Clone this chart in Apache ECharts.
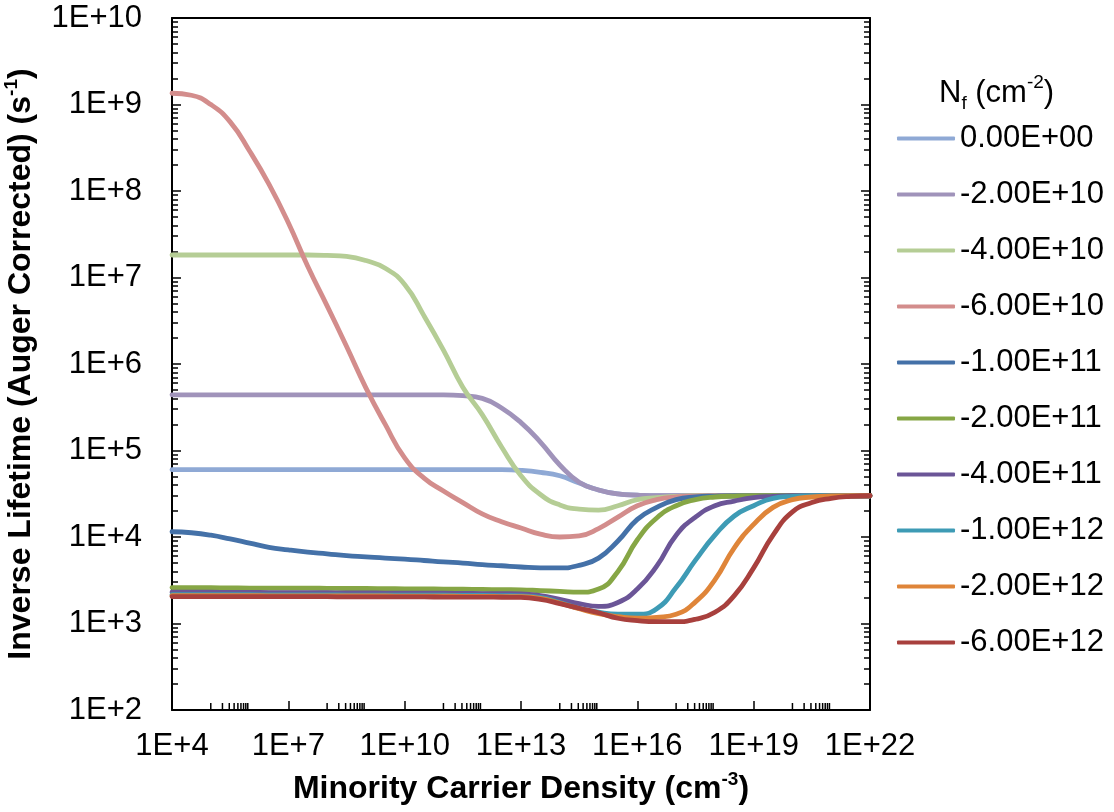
<!DOCTYPE html>
<html>
<head>
<meta charset="utf-8">
<title>Inverse Lifetime vs Minority Carrier Density</title>
<script src="https://cdn.jsdelivr.net/npm/echarts@6/dist/echarts.min.js"></script>
<style>
  html, body { margin: 0; padding: 0; background: #fff; }
  #chart { width: 1114px; height: 812px; }
</style>
</head>
<body>
<div id="chart"></div>
<script>
// Minority carrier density grid (cm^-3), half-decade steps from 1E+4 to 1E+22
const DENSITY = [
  1e4, 3.16e4, 1e5, 3.16e5, 1e6, 3.16e6, 1e7, 3.16e7, 1e8, 3.16e8,
  1e9, 3.16e9, 1e10, 3.16e10, 1e11, 3.16e11, 1e12, 3.16e12, 1e13, 3.16e13,
  1e14, 3.16e14, 1e15, 3.16e15, 1e16, 3.16e16, 1e17, 3.16e17, 1e18, 3.16e18,
  1e19, 3.16e19, 1e20, 3.16e20, 1e21, 3.16e21, 1e22
];

// Fixed charge density labels (cm^-2)
const NF_LABELS = [
  '0.00E+00', '-2.00E+10', '-4.00E+10', '-6.00E+10', '-1.00E+11',
  '-2.00E+11', '-4.00E+11', '-1.00E+12', '-2.00E+12', '-6.00E+12'
];

const NF_COLORS = [
  '#8FA9D5', '#A093BA', '#B5CD95', '#D38D8C', '#4471A8',
  '#86A645', '#6B5597', '#3E9BB5', '#DF8539', '#A8403D'
];

// Inverse lifetime (Auger corrected), s^-1, one array per fixed charge
const INV_NF_0 = [
  6.0e4, 6.0e4, 6.0e4, 6.0e4, 6.0e4, 6.0e4, 6.0e4, 6.0e4, 6.0e4, 6.0e4,
  6.0e4, 6.0e4, 6.0e4, 6.0e4, 6.0e4, 6.0e4, 6.0e4, 6.0e4, 5.9e4, 5.6e4,
  5.1e4, 4.2e4, 3.5e4, 3.15e4, 3.05e4, 3.0e4, 3.0e4, 3.0e4, 3.0e4, 3.0e4,
  3.0e4, 3.0e4, 3.0e4, 3.0e4, 3.0e4, 3.0e4, 3.0e4
];
const INV_NF_2E10 = [
  4.4e5, 4.4e5, 4.4e5, 4.4e5, 4.4e5, 4.4e5, 4.4e5, 4.4e5, 4.4e5, 4.4e5,
  4.4e5, 4.4e5, 4.4e5, 4.4e5, 4.4e5, 4.3e5, 4.0e5, 3.1e5, 2.1e5, 1.25e5,
  6.8e4, 4.3e4, 3.5e4, 3.15e4, 3.05e4, 3.0e4, 3.0e4, 3.0e4, 3.0e4, 3.0e4,
  3.0e4, 3.0e4, 3.0e4, 3.0e4, 3.0e4, 3.0e4, 3.0e4
];
const INV_NF_4E10 = [
  1.82e7, 1.82e7, 1.82e7, 1.82e7, 1.82e7, 1.82e7, 1.82e7, 1.82e7, 1.8e7, 1.75e7,
  1.57e7, 1.28e7, 8.3e6, 3.6e6, 1.45e6, 5.4e5, 2.6e5, 1.1e5, 5.1e4, 3.1e4,
  2.35e4, 2.1e4, 2.05e4, 2.3e4, 2.7e4, 2.85e4, 2.95e4, 3.0e4, 3.0e4, 3.0e4,
  3.0e4, 3.0e4, 3.0e4, 3.0e4, 3.0e4, 3.0e4, 3.0e4
];
const INV_NF_6E10 = [
  1.35e9, 1.28e9, 1.0e9, 6.3e8, 2.9e8, 1.2e8, 4.3e7, 1.35e7, 4.7e6, 1.6e6,
  5.3e5, 2.0e5, 8.2e4, 4.8e4, 3.4e4, 2.5e4, 1.85e4, 1.5e4, 1.27e4, 1.08e4,
  1.0e4, 1.03e4, 1.25e4, 1.7e4, 2.3e4, 2.7e4, 2.9e4, 2.97e4, 3.0e4, 3.0e4,
  3.0e4, 3.0e4, 3.0e4, 3.0e4, 3.0e4, 3.0e4, 3.0e4
];
const INV_NF_1E11 = [
  1.15e4, 1.12e4, 1.05e4, 9.5e3, 8.5e3, 7.6e3, 7.1e3, 6.7e3, 6.4e3, 6.1e3,
  5.9e3, 5.7e3, 5.55e3, 5.35e3, 5.15e3, 5.0e3, 4.8e3, 4.65e3, 4.5e3, 4.4e3,
  4.4e3, 4.7e3, 5.7e3, 9.0e3, 1.6e4, 2.2e4, 2.7e4, 2.9e4, 2.97e4, 3.0e4,
  3.0e4, 3.0e4, 3.0e4, 3.0e4, 3.0e4, 3.0e4, 3.0e4
];
const INV_NF_2E11 = [
  2.6e3, 2.6e3, 2.59e3, 2.58e3, 2.57e3, 2.57e3, 2.56e3, 2.56e3, 2.55e3, 2.54e3,
  2.54e3, 2.53e3, 2.52e3, 2.51e3, 2.5e3, 2.49e3, 2.48e3, 2.46e3, 2.45e3, 2.4e3,
  2.35e3, 2.3e3, 2.5e3, 4.0e3, 9.3e3, 1.66e4, 2.3e4, 2.7e4, 2.9e4, 2.97e4,
  3.0e4, 3.0e4, 3.0e4, 3.0e4, 3.0e4, 3.0e4, 3.0e4
];
const INV_NF_4E11 = [
  2.3e3, 2.3e3, 2.3e3, 2.29e3, 2.29e3, 2.28e3, 2.28e3, 2.27e3, 2.27e3, 2.26e3,
  2.26e3, 2.25e3, 2.25e3, 2.24e3, 2.24e3, 2.23e3, 2.22e3, 2.21e3, 2.2e3, 2.1e3,
  1.9e3, 1.7e3, 1.58e3, 1.75e3, 2.5e3, 4.6e3, 1.05e4, 1.7e4, 2.3e4, 2.6e4,
  2.85e4, 2.95e4, 3.0e4, 3.0e4, 3.0e4, 3.0e4, 3.0e4
];
const INV_NF_1E12 = [
  2.15e3, 2.15e3, 2.15e3, 2.15e3, 2.15e3, 2.14e3, 2.14e3, 2.14e3, 2.14e3, 2.13e3,
  2.13e3, 2.13e3, 2.12e3, 2.12e3, 2.12e3, 2.11e3, 2.11e3, 2.1e3, 2.08e3, 2.0e3,
  1.75e3, 1.5e3, 1.35e3, 1.28e3, 1.28e3, 1.48e3, 2.6e3, 5.4e3, 1.05e4, 1.75e4,
  2.3e4, 2.8e4, 2.95e4, 3.0e4, 3.0e4, 3.0e4, 3.0e4
];
const INV_NF_2E12 = [
  2.1e3, 2.1e3, 2.1e3, 2.1e3, 2.1e3, 2.09e3, 2.09e3, 2.09e3, 2.09e3, 2.08e3,
  2.08e3, 2.08e3, 2.07e3, 2.07e3, 2.07e3, 2.06e3, 2.06e3, 2.05e3, 2.04e3, 1.95e3,
  1.72e3, 1.48e3, 1.3e3, 1.2e3, 1.15e3, 1.18e3, 1.28e3, 1.78e3, 3.2e3, 7.5e3,
  1.4e4, 2.2e4, 2.7e4, 2.9e4, 2.98e4, 3.0e4, 3.0e4
];
const INV_NF_6E12 = [
  2.05e3, 2.05e3, 2.05e3, 2.05e3, 2.05e3, 2.04e3, 2.04e3, 2.04e3, 2.04e3, 2.03e3,
  2.03e3, 2.03e3, 2.03e3, 2.03e3, 2.02e3, 2.02e3, 2.02e3, 2.01e3, 2.0e3, 1.9e3,
  1.7e3, 1.5e3, 1.33e3, 1.15e3, 1.08e3, 1.05e3, 1.05e3, 1.12e3, 1.35e3, 2.1e3,
  4.4e3, 1.05e4, 1.95e4, 2.5e4, 2.8e4, 2.95e4, 3.0e4
];

const INV_LIFETIME = [
  INV_NF_0, INV_NF_2E10, INV_NF_4E10, INV_NF_6E10, INV_NF_1E11,
  INV_NF_2E11, INV_NF_4E11, INV_NF_1E12, INV_NF_2E12, INV_NF_6E12
];

// Axis tick labels
const X_TICK_LABELS = ['1E+4', '1E+7', '1E+10', '1E+13', '1E+16', '1E+19', '1E+22'];
const Y_TICK_LABELS = ['1E+2', '1E+3', '1E+4', '1E+5', '1E+6', '1E+7', '1E+8', '1E+9', '1E+10'];

// Decades (exponents) that carry minor tick marks on the density axis
const X_MINOR_DECADES = [5, 8, 11, 14, 17, 20];
const X_MINOR_MULTIPLIERS = [1, 2, 3, 4, 5, 6, 7, 8, 9];

const FONT = '"Liberation Sans", Arial, Helvetica, sans-serif';
const X_MIN = 1e4, X_MAX = 1e22, Y_MIN = 1e2, Y_MAX = 1e10;
const LABEL_SIZE = 31;
const TITLE_SIZE = 32;

const xMinorTicks = [];
X_MINOR_DECADES.forEach(function (d) {
  X_MINOR_MULTIPLIERS.forEach(function (m) { xMinorTicks.push([m * Math.pow(10, d), Y_MIN]); });
});

function expLabel(labels) {
  return function (value) {
    const e = Math.round(Math.log10(value));
    const hit = labels.find(function (s) { return s === '1E+' + e; });
    return hit || '';
  };
}

const supStyle = { fontSize: 19, fontFamily: FONT, fontWeight: 'bold', color: '#000', verticalAlign: 'top', lineHeight: 30 };

const lineSeries = NF_LABELS.map(function (name, i) {
  return {
    name: name,
    type: 'line',
    xAxisIndex: 0,
    yAxisIndex: 0,
    data: DENSITY.map(function (x, j) { return [x, INV_LIFETIME[i][j]]; }),
    showSymbol: false,
    symbol: 'none',
    smooth: 0.5,
    color: NF_COLORS[i],
    itemStyle: { color: NF_COLORS[i] },
    lineStyle: { color: NF_COLORS[i], width: 4.8, cap: 'round', join: 'round' },
    emphasis: { disabled: true },
    z: 2 + i * 0.01
  };
});

const axisLineStyle = { color: '#000', width: 2 };
const tickLineStyle = { color: '#000', width: 1.5 };

const option = {
  animation: false,
  backgroundColor: '#ffffff',
  title: {
    text: 'N{sub|f} (cm{sup|-2})',
    left: 939,
    top: 73,
    padding: 0,
    textStyle: {
      fontFamily: FONT, fontSize: LABEL_SIZE, fontWeight: 'normal', color: '#000', lineHeight: 40,
      rich: {
        sub: { fontFamily: FONT, fontSize: 19, color: '#000', verticalAlign: 'bottom', lineHeight: 18 },
        sup: { fontFamily: FONT, fontSize: 19, color: '#000', verticalAlign: 'top', lineHeight: 32 }
      }
    }
  },
  legend: {
    orient: 'vertical',
    left: 897,
    top: 123,
    padding: 0,
    itemWidth: 58,
    itemHeight: 4,
    itemGap: 25,
    icon: 'roundRect',
    data: NF_LABELS,
    selectedMode: false,
    textStyle: { fontFamily: FONT, fontSize: LABEL_SIZE, color: '#000', lineHeight: 30 }
  },
  grid: { left: 172, right: 244, top: 18, bottom: 102, containLabel: false, outerBoundsMode: 'none' },
  xAxis: [
    {
      type: 'log', logBase: 10, min: X_MIN, max: X_MAX, interval: 3,
      position: 'bottom',
      name: 'Minority Carrier Density (cm{sup|-3})',
      nameLocation: 'middle',
      nameGap: 60,
      nameTextStyle: {
        fontFamily: FONT, fontSize: TITLE_SIZE, fontWeight: 'bold', color: '#000', lineHeight: 38,
        rich: { sup: supStyle }
      },
      axisLine: { show: true, onZero: false, lineStyle: axisLineStyle },
      axisTick: { show: true, inside: true, length: 9, lineStyle: tickLineStyle },
      minorTick: { show: false },
      splitLine: { show: false },
      axisLabel: { fontFamily: FONT, fontSize: LABEL_SIZE, color: '#000', margin: 21, formatter: expLabel(X_TICK_LABELS) }
    },
    {
      type: 'log', logBase: 10, min: X_MIN, max: X_MAX, interval: 3,
      position: 'top',
      axisLine: { show: true, onZero: false, lineStyle: axisLineStyle },
      axisTick: { show: false },
      axisLabel: { show: false },
      splitLine: { show: false }
    }
  ],
  yAxis: [
    {
      type: 'log', logBase: 10, min: Y_MIN, max: Y_MAX, interval: 1,
      position: 'left',
      name: 'Inverse Lifetime (Auger Corrected) (s{sup|-1})',
      nameLocation: 'middle',
      nameGap: 124,
      nameTextStyle: {
        fontFamily: FONT, fontSize: TITLE_SIZE, fontWeight: 'bold', color: '#000', lineHeight: 38,
        rich: { sup: supStyle }
      },
      axisLine: { show: true, onZero: false, lineStyle: axisLineStyle },
      axisTick: { show: true, inside: true, length: 9, lineStyle: tickLineStyle },
      minorTick: { show: true, splitNumber: 9, length: 6, lineStyle: tickLineStyle },
      splitLine: { show: false },
      minorSplitLine: { show: false },
      axisLabel: { fontFamily: FONT, fontSize: LABEL_SIZE, color: '#000', margin: 30, formatter: expLabel(Y_TICK_LABELS) }
    },
    {
      type: 'log', logBase: 10, min: Y_MIN, max: Y_MAX, interval: 1,
      position: 'right',
      axisLine: { show: true, onZero: false, lineStyle: axisLineStyle },
      axisTick: { show: true, inside: true, length: 9, lineStyle: tickLineStyle },
      minorTick: { show: true, splitNumber: 9, length: 6, lineStyle: tickLineStyle },
      splitLine: { show: false },
      axisLabel: { show: false }
    }
  ],
  series: lineSeries.concat([
    {
      name: 'density minor ticks',
      type: 'custom',
      xAxisIndex: 0,
      yAxisIndex: 0,
      silent: true,
      clip: false,
      z: 5,
      data: xMinorTicks,
      renderItem: function (params, api) {
        const p = api.coord([api.value(0), api.value(1)]);
        return {
          type: 'line',
          shape: { x1: p[0], y1: p[1], x2: p[0], y2: p[1] - 7 },
          style: { stroke: '#000', lineWidth: 1.5 }
        };
      }
    }
  ])
};

const chart = echarts.init(document.getElementById('chart'), null, { renderer: 'canvas' });
chart.setOption(option);
</script>
</body>
</html>
